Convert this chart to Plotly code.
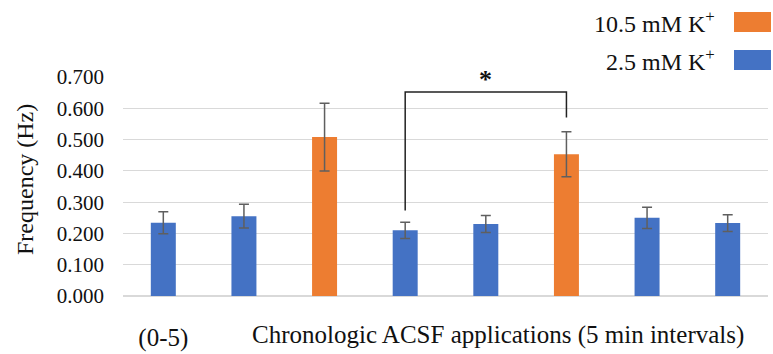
import plotly.graph_objects as go

# ---- data ----
categories = [0, 1, 2, 3, 4, 5, 6, 7]
tick_labels = ["(0-5)", "", "", "", "", "", "", ""]
condition = ["2.5", "2.5", "10.5", "2.5", "2.5", "10.5", "2.5", "2.5"]
frequency = [0.234, 0.255, 0.508, 0.210, 0.230, 0.453, 0.250, 0.233]
sem = [0.035, 0.038, 0.108, 0.026, 0.027, 0.072, 0.034, 0.027]

series_names = {"2.5": "2.5 mM K<sup>+</sup>", "10.5": "10.5 mM K<sup>+</sup>"}
series_colors = {"2.5": "#4472C4", "10.5": "#ED7D31"}

sig_pair = [3, 5]          # categories compared
sig_bracket_y = 0.652      # bracket height (Hz)
sig_leg_bottom = [0.273, 0.571]  # lower ends of bracket legs (Hz)
x_title = "Chronologic ACSF applications (5 min intervals)"
y_title = "Frequency (Hz)"

FONT = "Liberation Serif"
TXT = "#111111"

L, R, T, B = 123, 768, 77, 296  # plot area in px


def px_x(x):
    return (x - L) / (R - L)


def px_y(y):
    return (B - y) / (B - T)


fig = go.Figure()
for key in ["2.5", "10.5"]:
    xs = [c for c, k in zip(categories, condition) if k == key]
    ys = [v for v, k in zip(frequency, condition) if k == key]
    es = [e for e, k in zip(sem, condition) if k == key]
    fig.add_trace(go.Bar(
        x=xs, y=ys, name=series_names[key], width=0.31,
        marker=dict(color=series_colors[key], line=dict(width=0)),
        error_y=dict(type="data", array=es, visible=True,
                     color="#5f5f5f", thickness=1.5, width=5),
        showlegend=False,
    ))

# significance bracket
fig.add_trace(go.Scatter(
    x=[sig_pair[0], sig_pair[0], sig_pair[1], sig_pair[1]],
    y=[sig_leg_bottom[0], sig_bracket_y, sig_bracket_y, sig_leg_bottom[1]],
    mode="lines", line=dict(color="#222222", width=1.5),
    showlegend=False, hoverinfo="skip", cliponaxis=False,
))
fig.add_annotation(x=(sig_pair[0] + sig_pair[1]) / 2, y=sig_bracket_y,
                   text="<b>*</b>", showarrow=False, yanchor="bottom",
                   yshift=-4, font=dict(family=FONT, size=26, color=TXT))

# custom legend (text left of swatch)
legend_rows = [("10.5", 22), ("2.5", 60)]
for key, ypx in legend_rows:
    fig.add_annotation(xref="paper", yref="paper",
                       x=px_x(717), y=px_y(ypx),
                       text=series_names[key], showarrow=False,
                       xanchor="right", yanchor="middle",
                       font=dict(family=FONT, size=24, color=TXT))
    fig.add_shape(type="rect", xref="paper", yref="paper",
                  x0=px_x(734), x1=px_x(771),
                  y0=px_y(ypx - 10), y1=px_y(ypx + 10),
                  fillcolor=series_colors[key], line=dict(width=0))

# axis titles
fig.add_annotation(xref="paper", yref="paper", x=px_x(498),
                   y=px_y(335), text=x_title, showarrow=False,
                   xanchor="center", yanchor="middle",
                   font=dict(family=FONT, size=25, color=TXT))
fig.add_annotation(xref="paper", yref="paper", x=px_x(25),
                   y=px_y(180), text=y_title, showarrow=False,
                   textangle=-90, xanchor="center", yanchor="middle",
                   font=dict(family=FONT, size=24, color=TXT))

shown = [(c, t) for c, t in zip(categories, tick_labels) if t]

fig.update_layout(
    width=773, height=354,
    margin=dict(l=L, r=773 - R, t=T, b=354 - B),
    paper_bgcolor="white", plot_bgcolor="white",
    barmode="overlay",
    font=dict(family=FONT, size=21, color=TXT),
    xaxis=dict(tickmode="array", tickvals=[c for c, _ in shown],
               ticktext=[t for _, t in shown],
               range=[-0.5, 7.5], showgrid=False, zeroline=False,
               showline=False, ticks="", ticklabelstandoff=24,
               automargin=False,
               tickfont=dict(family=FONT, size=25, color=TXT)),
    yaxis=dict(range=[0, 0.7001], tickmode="linear", tick0=0, dtick=0.1,
               tickformat=".3f", showgrid=True, gridcolor="#d9d9d9",
               gridwidth=1, zeroline=True, zerolinecolor="#d9d9d9",
               showline=False, ticks="", ticklabelstandoff=18,
               automargin=False,
               tickfont=dict(family=FONT, size=21, color=TXT)),
)

fig.write_html("out.html")
